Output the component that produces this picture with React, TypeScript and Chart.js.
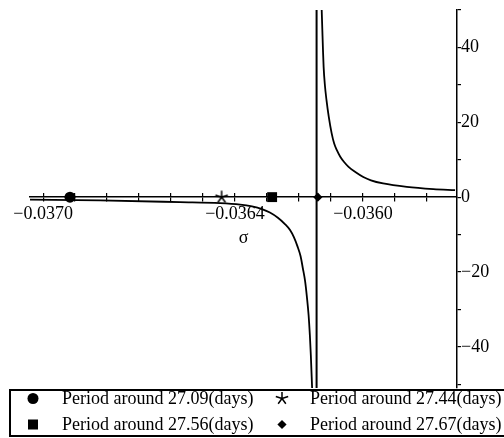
import React, { useEffect, useRef } from "react";
import { Chart, registerables } from "chart.js";

Chart.register(...registerables);

// ---- data ----
const leftBranchX = [-0.037041, -0.036822, -0.036572, -0.036447, -0.036384, -0.036347, -0.036316, -0.036291, -0.036266, -0.036244, -0.036228, -0.036216, -0.036205, -0.036195, -0.036188, -0.036181, -0.036175, -0.03617, -0.036166, -0.036163, -0.036159];
const leftBranchY = [-0.67, -0.88, -1.34, -1.6, -2.0, -2.5, -3.2, -4.1, -5.5, -7.2, -8.8, -10.7, -13.1, -15.8, -19.0, -22.4, -26.9, -31.5, -36.9, -42.2, -51];

const rightBranchX = [-0.036129, -0.036127, -0.036125, -0.036123, -0.036119, -0.036114, -0.036107, -0.036098, -0.03609, -0.036082, -0.036071, -0.036059, -0.036045, -0.036025, -0.035999, -0.035975, -0.035937, -0.035863, -0.03578, -0.035712];
const rightBranchY = [50, 44.6, 39.3, 34.8, 29.9, 25.9, 21.5, 17.1, 14.3, 12.6, 10.8, 9.4, 8.1, 6.8, 5.4, 4.5, 3.66, 2.75, 2.16, 1.87];

const asymptoteX = [-0.036145, -0.036145];
const asymptoteY = [-51, 50];

const markerLabels = [
  "Period around 27.09(days)",
  "Period around 27.44(days)",
  "Period around 27.56(days)",
  "Period around 27.67(days)",
];
const markerX = [-0.036916, -0.036442, -0.036284, -0.036141];
const markerY = [0, 0, 0, 0];

const xTickValues = [-0.037, -0.0369, -0.0368, -0.0367, -0.0366, -0.0365, -0.0364, -0.0363, -0.0362, -0.0361, -0.036, -0.0359, -0.0358];
const xMajorValues = [-0.037, -0.0364, -0.036];
const xMajorLabels = ["\u22120.0370", "\u22120.0364", "\u22120.0360"];

const yTickValues = [-50, -40, -30, -20, -10, 0, 10, 20, 30, 40, 50];
const yMajorValues = [-40, -20, 0, 20, 40];
const yMajorLabels = ["\u221240", "\u221220", "0", "20", "40"];

const xMin = -0.037041;
const xMax = -0.035706;
const yMin = -51;
const yMax = 50;

const axisTitle = "\u03c3";

const FONT = "'Liberation Serif', 'Times New Roman', serif";

function labelFor(v: number, values: number[], labels: string[], tol: number) {
  for (let i = 0; i < values.length; i++) {
    if (Math.abs(values[i] - v) < tol) return labels[i];
  }
  return "";
}

function makeStar(): HTMLCanvasElement {
  const c = document.createElement("canvas");
  c.width = 16;
  c.height = 16;
  const ctx = c.getContext("2d")!;
  ctx.strokeStyle = "#000";
  ctx.lineWidth = 1.5;
  ctx.beginPath();
  for (let k = 0; k < 5; k++) {
    const a = -Math.PI / 2 + (k * 2 * Math.PI) / 5;
    ctx.moveTo(8, 8);
    ctx.lineTo(8 + 6.5 * Math.cos(a), 8 + 6.5 * Math.sin(a));
  }
  ctx.stroke();
  return c;
}

function starPath(cx: number, cy: number, r: number) {
  let d = "";
  for (let k = 0; k < 5; k++) {
    const a = -Math.PI / 2 + (k * 2 * Math.PI) / 5;
    d += `M${cx} ${cy} L${cx + r * Math.cos(a)} ${cy + r * Math.sin(a)} `;
  }
  return d;
}

export default function App() {
  const canvasRef = useRef<HTMLCanvasElement | null>(null);

  useEffect(() => {
    const canvas = canvasRef.current;
    if (!canvas) return;
    const pts = (xs: number[], ys: number[]) => xs.map((x, i) => ({ x, y: ys[i] }));
    const star = makeStar();
    const markerStyles: any[] = ["circle", star, "rect", "rectRot"];
    const markerRadii = [5.5, 8, 7, 4.6];

    const markerSets = markerX.map((mx, i) => ({
      label: markerLabels[i],
      data: [{ x: mx, y: markerY[i] }],
      showLine: false,
      pointStyle: markerStyles[i],
      pointRadius: markerRadii[i],
      pointHoverRadius: markerRadii[i],
      backgroundColor: "#000",
      borderColor: "#000",
      pointBorderWidth: 0,
    }));

    const lineCommon = {
      showLine: true,
      borderColor: "#000",
      pointRadius: 0,
      pointHoverRadius: 0,
      fill: false,
      cubicInterpolationMode: "monotone" as const,
    };

    const tickBuilder = (values: number[]) => (scale: any) => {
      scale.ticks = values.map((v) => ({ value: v }));
    };

    const chart = new Chart(canvas, {
      type: "scatter",
      data: {
        datasets: [
          ...markerSets,
          { label: "left", data: pts(leftBranchX, leftBranchY), borderWidth: 1.8, ...lineCommon },
          { label: "right", data: pts(rightBranchX, rightBranchY), borderWidth: 1.8, ...lineCommon },
          { label: "asym", data: pts(asymptoteX, asymptoteY), borderWidth: 2, ...lineCommon },
        ] as any,
      },
      options: {
        animation: false,
        responsive: false,
        layout: { padding: { left: 30, top: 10, right: 0, bottom: 50 } },
        plugins: { legend: { display: false }, tooltip: { enabled: false } },
        scales: {
          x: {
            type: "linear",
            min: xMin,
            max: xMax,
            position: { y: 0 } as any,
            afterBuildTicks: tickBuilder(xTickValues),
            grid: { display: true, drawOnChartArea: false, drawTicks: true, tickLength: 4, color: "#000", lineWidth: 1.2 },
            border: { display: true, color: "#000", width: 1.5 },
            ticks: {
              autoSkip: false,
              maxRotation: 0,
              padding: 2,
              color: "#000",
              font: { family: FONT, size: 18 },
              callback: (v: any) => labelFor(Number(v), xMajorValues, xMajorLabels, 1e-8),
            },
            title: {
              display: true,
              text: axisTitle,
              color: "#000",
              font: { family: FONT, size: 18 },
              padding: { top: 1, bottom: 0 },
            },
          },
          x2: {
            type: "linear",
            axis: "x",
            min: xMin,
            max: xMax,
            position: { y: 0 } as any,
            afterBuildTicks: tickBuilder(xTickValues),
            grid: { display: true, drawOnChartArea: false, drawTicks: true, tickLength: -4, color: "#000", lineWidth: 1.2 },
            border: { display: false },
            ticks: { display: false, autoSkip: false },
          } as any,
          y: {
            type: "linear",
            position: "right",
            min: yMin,
            max: yMax,
            afterBuildTicks: tickBuilder(yTickValues),
            afterFit: (scale: any) => {
              scale.width = 47;
            },
            grid: { display: true, drawOnChartArea: false, drawTicks: true, tickLength: 4, color: "#000", lineWidth: 1.2 },
            border: { display: true, color: "#000", width: 1.5 },
            ticks: {
              autoSkip: false,
              padding: 0,
              color: "#000",
              font: { family: FONT, size: 18, lineHeight: 1 },
              callback: (v: any) => labelFor(Number(v), yMajorValues, yMajorLabels, 1e-6),
            },
          },
        },
      } as any,
    });
    return () => chart.destroy();
  }, []);

  const legendPos = [
    { mx: 33, my: 398.5, tx: 62, ty: 388 },
    { mx: 282, my: 398.5, tx: 310, ty: 388 },
    { mx: 33, my: 424.5, tx: 62, ty: 414 },
    { mx: 282, my: 424.5, tx: 310, ty: 414 },
  ];

  return (
    <div style={{ position: "absolute", left: 0, top: 0, width: 504, height: 438, overflow: "hidden", background: "#fff" }}>
      <canvas ref={canvasRef} width={504} height={438} style={{ position: "absolute", left: 0, top: 0 }} />
      <div
        style={{
          position: "absolute",
          left: 9,
          top: 389,
          width: 520,
          height: 44,
          border: "2px solid #000",
        }}
      />
      <svg width={504} height={438} style={{ position: "absolute", left: 0, top: 0, pointerEvents: "none" }}>
        <circle cx={legendPos[0].mx} cy={legendPos[0].my} r={5.5} fill="#000" />
        <path d={starPath(legendPos[1].mx, legendPos[1].my, 6.5)} stroke="#000" strokeWidth={1.5} fill="none" />
        <rect x={legendPos[2].mx - 5} y={legendPos[2].my - 5} width={10} height={10} fill="#000" />
        <polygon
          points={`${legendPos[3].mx},${legendPos[3].my - 4.6} ${legendPos[3].mx + 4.6},${legendPos[3].my} ${legendPos[3].mx},${legendPos[3].my + 4.6} ${legendPos[3].mx - 4.6},${legendPos[3].my}`}
          fill="#000"
        />
      </svg>
      {markerLabels.map((t, i) => (
        <div
          key={t}
          style={{
            position: "absolute",
            left: legendPos[i].tx,
            top: legendPos[i].ty,
            height: 20,
            lineHeight: "20px",
            fontFamily: FONT,
            fontSize: 18,
            color: "#000",
            whiteSpace: "nowrap",
          }}
        >
          {t}
        </div>
      ))}
    </div>
  );
}
